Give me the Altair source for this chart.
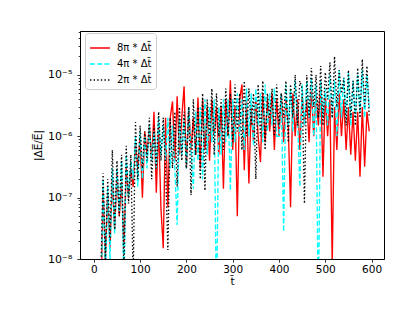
import altair as alt
import pandas as pd

t = list(range(0, 600, 5))

red = [
    1e-10, 1e-10, 1e-10, 1e-9, 1.5e-7, 1e-8, 1.2e-7, 1.5e-8, 2e-7, 3e-8,
    2.5e-7, 5e-8, 1.8e-7, 1.5e-8, 3e-7, 1e-7, 3e-7, 1.5e-7, 8e-7, 3e-7,
    1e-6, 1e-7, 1.2e-6, 5e-7, 1.5e-6, 4e-7, 2.5e-6, 1.2e-7, 1.5e-6, 6.7e-8,
    1.5e-8, 2e-6, 7e-8, 2e-6, 3.7e-6, 4e-7, 4.5e-6, 5e-7, 2e-6, 6.5e-6,
    3e-7, 3e-6, 6e-7, 2e-6, 5e-7, 4.3e-6, 3e-7, 4e-6, 6e-7, 3e-6,
    4e-7, 4e-6, 1e-6, 3e-6, 5e-7, 3e-6, 1.4e-7, 4e-6, 1e-6, 8.2e-6,
    6e-7, 3e-6, 5e-8, 4e-6, 7e-6, 2.8e-7, 4e-6, 1.7e-7, 3e-6, 8e-7,
    4e-6, 1e-6, 3.8e-7, 5e-6, 8e-7, 4e-6, 1.2e-6, 5e-6, 6e-7, 4e-6,
    1e-6, 5e-6, 8e-7, 4e-6, 1.5e-6, 7e-8, 5e-6, 1e-6, 4e-6, 6e-7,
    5e-6, 1.5e-6, 4e-6, 8e-7, 6e-6, 1e-6, 5e-6, 1.5e-6, 7.6e-6, 2.2e-7,
    5e-6, 1e-6, 4e-6, 8e-9, 3e-6, 6e-7, 5e-6, 1e-6, 4e-6, 6e-7,
    3e-6, 5e-7, 2.5e-6, 4e-7, 2.5e-6, 2.2e-7, 3e-6, 3.2e-7, 2.5e-6, 1.2e-6,
]

cyan = [
    1e-10, 1e-10, 1e-10, 1e-9, 2e-7, 5e-9, 1.5e-7, 1e-8, 3e-7, 2.6e-8,
    3e-7, 6e-8, 4e-7, 3e-9, 5e-7, 1e-7, 4e-7, 2e-7, 1e-6, 1.5e-7,
    1.2e-6, 2e-7, 1e-6, 3e-7, 1.5e-6, 4e-7, 1.2e-6, 3e-7, 2e-6, 5e-7,
    1.5e-6, 4e-7, 2e-6, 3e-7, 1.5e-6, 3e-7, 3.6e-8, 2e-6, 5e-7, 2e-6,
    3e-7, 3e-6, 6e-7, 1.4e-7, 2.5e-6, 4e-7, 3e-6, 2e-7, 4e-6, 5e-7,
    3e-6, 8e-7, 4e-6, 1e-9, 3e-6, 5e-7, 4e-6, 8e-7, 4e-6, 1.3e-7,
    4e-6, 8e-7, 5e-6, 1e-6, 4e-6, 6e-7, 6e-6, 1e-6, 5e-6, 7e-7,
    6e-6, 1.5e-6, 5e-6, 8e-7, 7e-6, 1.2e-6, 5e-6, 1.5e-6, 6e-6, 1e-6,
    1e-6, 5e-6, 2.8e-8, 7e-6, 1.5e-6, 6e-6, 1.2e-6, 8e-6, 2e-6, 1.5e-7,
    7e-6, 1.5e-6, 8e-6, 2e-6, 9e-6, 1e-6, 7e-6, 1e-9, 8e-6, 2e-6,
    6e-6, 1.5e-6, 1e-5, 2e-6, 8e-6, 1e-6, 1.2e-5, 2e-6, 9e-6, 2e-6,
    1.1e-5, 1.5e-6, 8e-6, 2e-6, 1e-5, 2.5e-6, 1.2e-5, 2e-6, 1e-5, 3e-6,
]

black = [
    1e-10, 1e-10, 1e-10, 5e-9, 2.5e-7, 1e-8, 2e-7, 2e-8, 6e-7, 3e-8,
    4e-7, 5e-8, 5e-7, 6e-9, 7e-7, 8e-8, 5e-7, 5e-9, 1.7e-6, 2e-7,
    1.5e-6, 3e-7, 1.2e-6, 4e-7, 2e-6, 2e-7, 1.5e-6, 3e-7, 2.5e-6, 4e-7,
    2e-6, 3e-7, 1.4e-8, 2e-6, 3e-7, 2.5e-6, 1.5e-7, 3e-6, 4e-7, 2.5e-6,
    3e-7, 3e-6, 1.1e-7, 4e-6, 5e-7, 3e-6, 2e-7, 5e-6, 1.3e-7, 4e-6,
    1e-6, 6e-6, 5e-7, 5e-6, 1e-6, 4e-6, 6e-7, 6e-6, 1e-6, 5e-6,
    8e-7, 7e-6, 1.2e-6, 5e-6, 6e-7, 8e-6, 1e-6, 6e-6, 1.5e-6, 5e-6,
    2e-7, 7e-6, 1e-6, 8e-6, 6e-7, 5e-6, 2e-6, 6e-6, 1e-6, 7e-6,
    1.5e-6, 5e-6, 2e-6, 8e-6, 8e-7, 7e-6, 2e-6, 1e-5, 1.5e-6, 8e-6,
    6e-6, 8e-8, 1e-5, 2e-6, 1.3e-5, 3e-6, 1e-5, 2e-6, 1.4e-5, 1.5e-6,
    1.1e-5, 4e-6, 1.6e-5, 2e-6, 2e-5, 3e-6, 1.2e-5, 5e-6, 9e-6, 1.5e-6,
    1.2e-5, 2e-6, 8e-6, 1.5e-6, 1.3e-5, 2e-6, 1.8e-5, 3e-6, 1.4e-5, 2e-6,
]

labels = ["8π * Δt̄", "4π * Δt̄", "2π * Δt̄"]
colors = ["#ff0000", "#00ffff", "#000000"]
dashes = [[1, 0], [5, 2.2], [1.4, 2.2]]

x_ticks = [0, 100, 200, 300, 400, 500, 600]
y_major = [1e-8, 1e-7, 1e-6, 1e-5]
y_minor = [k * m for m in [1e-8, 1e-7, 1e-6, 1e-5] for k in range(2, 10) if k * m <= 5.2e-5]

rows = []
for lab, vals in zip(labels, [red, cyan, black]):
    for xv, v in zip(t, vals):
        rows.append({"t": xv, "v": v, "s": lab})
df = pd.DataFrame(rows)

FONT = "DejaVu Sans"

x = alt.X(
    "t:Q",
    scale=alt.Scale(domain=[-29.85, 626.85], nice=False, zero=False),
    axis=alt.Axis(values=x_ticks, title="t̄", titleFontSize=10.5, titleFontWeight="normal",
                  titlePadding=2, labelFontSize=10.5, tickSize=3.2, labelPadding=2),
)
major_test = " || ".join(f"datum.value == {v}" for v in ["1e-8", "1e-7", "1e-6", "1e-5"])
y = alt.Y(
    "v:Q",
    scale=alt.Scale(type="log", domain=[1e-8, 5.2e-5], nice=False),
    axis=alt.Axis(
        values=y_major + y_minor,
        labelExpr="datum.value == 1e-5 ? '10⁻⁵' : datum.value == 1e-6 ? '10⁻⁶' : datum.value == 1e-7 ? '10⁻⁷' : datum.value == 1e-8 ? '10⁻⁸' : ''",
        tickSize={"condition": {"test": major_test, "value": 3.2}, "value": 1.8},
        labelOverlap=False,
        labelFontSize=11,
        labelPadding=5,
        title="|ΔE̅/E̅|",
        titleFontSize=10.5,
        titleFontWeight="normal",
        titlePadding=4,
    ),
)
legend = alt.Legend(
    title=None, orient="none", legendX=5, legendY=2,
    symbolType="stroke", symbolSize=400, symbolStrokeWidth=1.35,
    labelFontSize=10, labelOffset=6, padding=4, rowPadding=-4,
    strokeColor="#cccccc", fillColor="white", cornerRadius=3,
)
color = alt.Color("s:N", scale=alt.Scale(domain=labels, range=colors), legend=legend)
dash = alt.StrokeDash("s:N", scale=alt.Scale(domain=labels, range=dashes), legend=legend)

layers = [
    alt.Chart(df)
    .transform_filter(alt.datum.s == lab)
    .mark_line(clip=True, strokeWidth=1.35)
    .encode(x=x, y=y, color=color, strokeDash=dash)
    for lab in labels
]

chart = (
    alt.layer(*layers)
    .properties(width=304, height=228, autosize="none",
                padding={"left": 72, "top": 23, "right": 24, "bottom": 54})
    .configure(font=FONT)
    .configure_view(stroke="black", strokeWidth=1)
    .configure_axis(grid=False, domainColor="black", tickColor="black", labelColor="black",
                    titleColor="black", tickWidth=0.8, domainWidth=0.8)
)

chart.save("out.html", embed_options={"renderer": "svg", "actions": False})
